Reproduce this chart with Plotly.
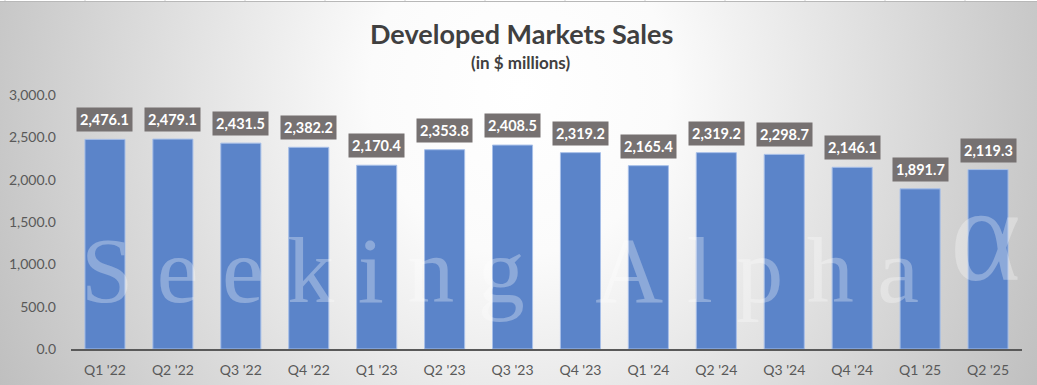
import plotly.graph_objects as go
from urllib.parse import quote

categories = ["Q1 '22", "Q2 '22", "Q3 '22", "Q4 '22", "Q1 '23", "Q2 '23", "Q3 '23",
              "Q4 '23", "Q1 '24", "Q2 '24", "Q3 '24", "Q4 '24", "Q1 '25", "Q2 '25"]
sales = [2476.1, 2479.1, 2431.5, 2382.2, 2170.4, 2353.8, 2408.5,
         2319.2, 2165.4, 2319.2, 2298.7, 2146.1, 1891.7, 2119.3]
y_ticks = [0, 500, 1000, 1500, 2000, 2500, 3000]

W, H = 1037, 385
ML, MR, MT, MB = 71, 15, 95, 36
PW, PH = W - ML - MR, H - MT - MB

def px_x(px):
    return (px - ML) / PW

def px_y(py):
    return (H - MB - py) / PH

# background: radial grey gradient + thin spreadsheet strip on top
ticks_svg = "".join(
    f'<line x1="{5 + 80 * i}" y1="0" x2="{5 + 80 * i}" y2="2" stroke="#d0d0d0" stroke-width="1"/>'
    for i in range(14))
svg = (
    f'<svg xmlns="http://www.w3.org/2000/svg" width="{W}" height="{H}" viewBox="0 0 {W} {H}" preserveAspectRatio="none">'
    '<defs><radialGradient id="g" gradientUnits="userSpaceOnUse" cx="520" cy="90" r="600" '
    'gradientTransform="translate(520,90) scale(1,1.1) translate(-520,-90)">'
    '<stop offset="0" stop-color="#ffffff"/><stop offset="0.25" stop-color="#fbfbfb"/>'
    '<stop offset="1" stop-color="#bdbdbd"/></radialGradient></defs>'
    f'<rect x="0" y="0" width="{W}" height="{H}" fill="url(#g)"/>'
    f'<rect x="0" y="0" width="{W}" height="2" fill="#ffffff"/>' + ticks_svg +
    f'<line x1="0" y1="1.5" x2="{W}" y2="1.5" stroke="#b8b8b8" stroke-width="1"/>'
    '</svg>'
)
bg_src = "data:image/svg+xml;charset=utf-8," + quote(svg)

fig = go.Figure()
fig.add_trace(go.Bar(
    x=categories, y=sales,
    marker=dict(color="#5b84c9", line=dict(color="#a7bfe8", width=1)),
    hoverinfo="x+y",
))

annotations = []
for c, v in zip(categories, sales):
    annotations.append(dict(
        x=c, y=v, xref="x", yref="y", text=f"{v:,.1f}", showarrow=False,
        yanchor="bottom", yshift=7, bgcolor="#767171", borderpad=3,
        font=dict(family="Lato", size=14.5, color="#ffffff", weight="bold"),
    ))

# watermark
wm = "\u2005".join("Seeking") + "\u2002\u2005" + "\u2005".join("Alpha")
annotations.append(dict(
    x=px_x(500), y=px_y(270), xref="paper", yref="paper", text=wm, showarrow=False,
    xanchor="center", yanchor="middle",
    font=dict(family="Liberation Serif", size=94, color="rgba(255,255,255,0.3)"),
))
annotations.append(dict(
    x=px_x(985), y=px_y(234), xref="paper", yref="paper", text="\u03b1", showarrow=False,
    xanchor="center", yanchor="middle",
    font=dict(family="Liberation Serif", size=135, color="rgba(255,255,255,0.3)"),
))

# titles
annotations.append(dict(
    x=px_x(521), y=px_y(33), xref="paper", yref="paper", text="Developed Markets Sales",
    showarrow=False, xanchor="center", yanchor="middle",
    font=dict(family="Lato", size=27, color="#404040", weight="bold"),
))
annotations.append(dict(
    x=px_x(520), y=px_y(62), xref="paper", yref="paper", text="(in $ millions)",
    showarrow=False, xanchor="center", yanchor="middle",
    font=dict(family="Lato", size=17, color="#404040", weight="bold"),
))

fig.update_layout(
    width=W, height=H,
    margin=dict(l=ML, r=MR, t=MT, b=MB, autoexpand=False),
    paper_bgcolor="#e6e6e6",
    plot_bgcolor="rgba(0,0,0,0)",
    bargap=0.41,
    showlegend=False,
    annotations=annotations,
    images=[dict(
        source=bg_src, xref="paper", yref="paper",
        x=-ML / PW, y=1 + MT / PH, sizex=W / PW, sizey=H / PH,
        xanchor="left", yanchor="top", sizing="stretch", layer="below",
    )],
    xaxis=dict(
        showgrid=False, showline=True, linecolor="#595959", linewidth=2,
        ticks="", tickfont=dict(family="Lato", size=14, color="#595959"),
        ticklabelstandoff=7, fixedrange=True,
    ),
    yaxis=dict(
        range=[0, 3000], tickvals=y_ticks, tickformat=",.1f",
        showgrid=False, showline=False, zeroline=False, ticks="",
        tickfont=dict(family="Lato", size=14, color="#595959"),
        ticklabelstandoff=14, fixedrange=True,
    ),
)

fig.write_html(
    "out.html",
    config={"displayModeBar": False},
    post_script="document.body.style.margin='0';document.body.style.overflow='hidden';",
)
